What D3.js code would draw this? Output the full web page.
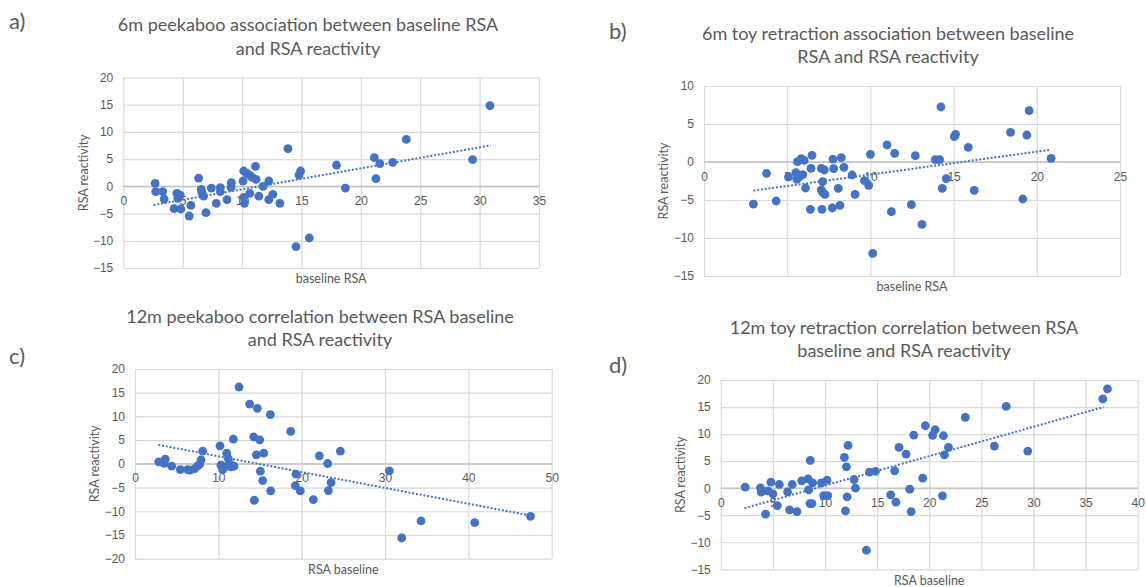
<!DOCTYPE html>
<html>
<head>
<meta charset="UTF-8">
<title>RSA baseline vs RSA reactivity</title>
<script src="https://cdnjs.cloudflare.com/ajax/libs/d3/7.8.5/d3.min.js"></script>
<style>
  body { margin: 0; background: #fff; }
  svg { font-family: Lato, "Open Sans", sans-serif; }
  .grid line { stroke: #d9d9d9; stroke-width: 1.2; }
  .grid .domain { display: none; }
  .zero-line { stroke: #bfbfbf; stroke-width: 1.4; }
  .tick-label { fill: #595959; font-size: 12px; }
  .chart-title { fill: #595959; font-size: 18px; }
  .axis-title { fill: #595959; font-size: 12.5px; }
  .panel-label { fill: #595959; font-size: 22px; }
  .dot { fill: #4472c4; }
  .trend { stroke: #4472c4; stroke-width: 2; stroke-dasharray: 2 1.8; fill: none; }
</style>
</head>
<body>
<div id="chart"></div>
<script>
// values: [baseline, reactivity]
const peek6 = [[2.68,0.55],[2.73,-0.98],[3.32,-0.98],[3.44,-2.33],[4.28,-4.1],[4.51,-1.29],[4.59,-2.2],[4.79,-1.6],[4.85,-4.16],[5.69,-3.49],[5.55,-5.45],[6.34,1.53],[6.56,-0.55],[6.62,-1.16],[6.76,-1.78],[6.96,-4.84],[7.41,-0.31],[7.83,-3.12],[8.17,-0.24],[8.17,-0.98],[8.73,-2.45],[9.1,0.67],[9.07,-0.18],[10.08,0.98],[10.14,2.82],[10.42,2.39],[10.65,2.02],[10.85,1.65],[11.18,1.29],[11.13,3.67],[10.14,-2.02],[10.2,-3.12],[10.65,-1.29],[11.41,-1.78],[11.77,0],[12.25,0.98],[12.25,-2.45],[12.59,-1.47],[13.18,-3.12],[13.86,6.92],[14.79,2.08],[14.93,2.82],[14.54,-11.08],[15.66,-9.49],[17.95,3.92],[18.7,-0.31],[21.13,5.27],[21.6,4.16],[21.27,1.41],[22.68,4.41],[23.83,8.63],[29.41,4.9],[30.87,14.82]];
const toy6 = [[2.97,-5.53],[3.76,-1.49],[4.34,-5.13],[5.08,-1.97],[5.52,-1.4],[5.62,0.04],[5.84,0.44],[6.02,0.22],[6.49,0.88],[5.58,-2.28],[5.74,-1.93],[5.94,-1.67],[6.1,-3.42],[6.43,-0.83],[7.05,-0.83],[7.23,-1.05],[7.13,-2.59],[7.05,-3.68],[7.13,-3.99],[7.27,-4.25],[6.39,-6.23],[7.09,-6.23],[7.71,-6.05],[8.17,-5.7],[7.75,0.39],[8.25,0.57],[7.79,-0.88],[8.41,-0.7],[8.07,-3.46],[8.9,-1.71],[9.08,-4.25],[9.64,-2.46],[9.9,-3.07],[10.0,1.01],[10.14,-12.02],[11.0,2.24],[11.46,1.14],[11.26,-6.54],[12.46,-5.61],[12.7,0.83],[13.1,-8.2],[13.9,0.31],[14.16,0.31],[14.24,7.24],[14.56,-2.19],[14.32,-3.46],[15.04,3.33],[15.12,3.64],[15.88,1.93],[16.24,-3.73],[18.42,3.9],[19.4,3.55],[19.54,6.75],[19.16,-4.87],[20.86,0.48]];
const peek12 = [[2.84,0.42],[3.64,0.99],[3.5,0.1],[4.4,-0.49],[5.44,-1.2],[6.32,-1.2],[6.6,-1.34],[7.12,-1.06],[7.52,-0.42],[7.76,-0.07],[7.92,0.85],[8.12,2.68],[10.2,3.8],[10.32,-0.28],[10.52,-1.2],[11.0,2.25],[11.2,1.06],[11.12,-0.42],[11.36,0.07],[11.52,-0.63],[11.8,5.21],[11.88,-0.49],[12.48,16.2],[13.76,12.6],[14.68,11.7],[16.24,10.4],[14.24,5.7],[14.96,5.07],[14.56,1.9],[15.44,2.25],[15.04,-1.55],[15.32,-3.52],[14.32,-7.68],[16.28,-5.7],[18.68,6.83],[19.32,-2.18],[19.24,-4.58],[19.84,-5.7],[21.4,-7.54],[22.12,1.69],[23.12,0.07],[24.64,2.68],[23.52,-3.94],[23.2,-5.63],[30.52,-1.48],[32.0,-15.63],[34.32,-12.04],[40.76,-12.39],[47.45,-11.06]];
const toy12 = [[2.34,0.19],[3.81,0.06],[3.88,-0.74],[4.52,-0.49],[5.0,-1.05],[4.81,1.11],[4.29,-4.81],[5.42,-3.21],[5.61,0.68],[6.41,-0.68],[6.86,0.68],[6.6,-4.01],[7.31,-4.32],[7.76,1.36],[8.37,1.73],[8.43,-0.31],[8.59,5.12],[8.81,0.99],[8.56,-2.84],[8.75,-2.84],[9.65,0.99],[10.19,1.48],[9.87,-1.36],[10.26,-1.36],[11.86,5.68],[12.05,3.95],[12.21,7.9],[11.96,-4.2],[12.12,-1.6],[12.79,1.6],[12.92,0],[14.26,2.96],[14.84,3.09],[13.97,-11.48],[16.3,-1.25],[16.68,3.21],[16.8,-2.59],[17.1,7.53],[17.78,6.3],[18.51,9.81],[19.62,11.54],[20.57,10.8],[20.32,9.75],[21.36,9.69],[21.84,7.53],[21.46,6.17],[19.37,1.85],[18.13,-0.19],[18.26,-4.32],[21.27,-1.42],[23.46,13.09],[26.25,7.78],[27.39,15.12],[29.45,6.85],[36.65,16.5],[37.1,18.36]];

// dotted linear trendlines, start and end as drawn
const trendPeek6 = [[2.54,-3.43],[30.93,7.53]];
const trendToy6 = [[2.97,-3.77],[20.86,1.62]];
const trendPeek12 = [[2.8,4.01],[47.45,-10.9]];
const trendToy12 = [[2.28,-3.7],[36.72,15.0]];

// axis ticks
const xTicksPeek6 = [0,5,10,15,20,25,30,35];
const yTicksPeek6 = [-15,-10,-5,0,5,10,15,20];
const xTicksToy6 = [0,5,10,15,20,25];
const yTicksToy6 = [-15,-10,-5,0,5,10];
const xTicksPeek12 = [0,10,20,30,40,50];
const yTicksPeek12 = [-20,-15,-10,-5,0,5,10,15,20];
const xTicksToy12 = [0,5,10,15,20,25,30,35,40];
const yTicksToy12 = [-15,-10,-5,0,5,10,15,20];

const panels = [
  { label: "a)", title: ["6m peekaboo association between baseline RSA", "and RSA reactivity"],
    xTitle: "baseline RSA", data: peek6, trend: trendPeek6, xTicks: xTicksPeek6, yTicks: yTicksPeek6,
    box: {left: 123.3, right: 539, top: 77.5, bottom: 268}, titleAt: [308, 25, 48.3], labelAt: [9, 21.7] },
  { label: "b)", title: ["6m toy retraction association between baseline", "RSA and RSA reactivity"],
    xTitle: "baseline RSA", data: toy6, trend: trendToy6, xTicks: xTicksToy6, yTicks: yTicksToy6,
    box: {left: 704, right: 1120, top: 86, bottom: 276}, titleAt: [888, 33.3, 56.7], labelAt: [609, 31.7] },
  { label: "c)", title: ["12m peekaboo correlation between RSA baseline", "and RSA reactivity"],
    xTitle: "RSA baseline", data: peek12, trend: trendPeek12, xTicks: xTicksPeek12, yTicks: yTicksPeek12,
    box: {left: 135, right: 551.7, top: 369, bottom: 558.7}, titleAt: [320, 316.7, 340], labelAt: [9, 356.7] },
  { label: "d)", title: ["12m toy retraction correlation between RSA", "baseline and RSA reactivity"],
    xTitle: "RSA baseline", data: toy12, trend: trendToy12, xTicks: xTicksToy12, yTicks: yTicksToy12,
    box: {left: 720.8, right: 1137.7, top: 380, bottom: 569.3}, titleAt: [904, 327.7, 350.7], labelAt: [609, 365] }
];

const svg = d3.select("#chart").append("svg")
  .attr("width", 1146)
  .attr("height", 587);

panels.forEach(p => {
  const b = p.box;
  const x = d3.scaleLinear().domain(d3.extent(p.xTicks)).range([b.left, b.right]);
  const y = d3.scaleLinear().domain(d3.extent(p.yTicks)).range([b.bottom, b.top]);
  const g = svg.append("g");

  // horizontal grid + y labels
  const yAxis = g.append("g").attr("class", "grid")
    .attr("transform", `translate(${b.left},0)`)
    .call(d3.axisLeft(y).tickValues(p.yTicks).tickSize(-(b.right - b.left)).tickPadding(10));
  yAxis.selectAll("text").attr("class", "tick-label").attr("font-family", null).attr("font-size", null);

  // vertical grid
  g.append("g").attr("class", "grid")
    .attr("transform", `translate(0,${b.bottom})`)
    .call(d3.axisBottom(x).tickValues(p.xTicks).tickSize(-(b.bottom - b.top)).tickFormat(""));

  // x axis on the zero line
  g.append("line").attr("class", "zero-line")
    .attr("x1", b.left).attr("x2", b.right)
    .attr("y1", y(0)).attr("y2", y(0));
  const xAxis = g.append("g")
    .attr("transform", `translate(0,${y(0)})`)
    .call(d3.axisBottom(x).tickValues(p.xTicks).tickSize(0).tickPadding(10));
  xAxis.select(".domain").remove();
  xAxis.selectAll("text").attr("class", "tick-label").attr("font-family", null).attr("font-size", null);

  // trend line
  g.append("path").attr("class", "trend")
    .attr("d", d3.line().x(d => x(d[0])).y(d => y(d[1]))(p.trend));

  // points
  g.selectAll(".dot").data(p.data).enter().append("circle")
    .attr("class", "dot")
    .attr("cx", d => x(d[0]))
    .attr("cy", d => y(d[1]))
    .attr("r", 4.4);

  // titles
  p.title.forEach((t, i) => {
    g.append("text").attr("class", "chart-title")
      .attr("x", p.titleAt[0]).attr("y", p.titleAt[1 + i])
      .attr("dy", "0.35em").attr("text-anchor", "middle").text(t);
  });
  g.append("text").attr("class", "panel-label")
    .attr("x", p.labelAt[0]).attr("y", p.labelAt[1]).attr("dy", "0.35em").text(p.label);
  g.append("text").attr("class", "axis-title")
    .attr("x", (b.left + b.right) / 2).attr("y", b.bottom + 11)
    .attr("dy", "0.35em").attr("text-anchor", "middle").text(p.xTitle);
  g.append("text").attr("class", "axis-title")
    .attr("transform", `translate(${b.left - 40},${(b.top + b.bottom) / 2}) rotate(-90)`)
    .attr("dy", "0.35em").attr("text-anchor", "middle").text("RSA reactivity");
});
</script>
</body>
</html>
